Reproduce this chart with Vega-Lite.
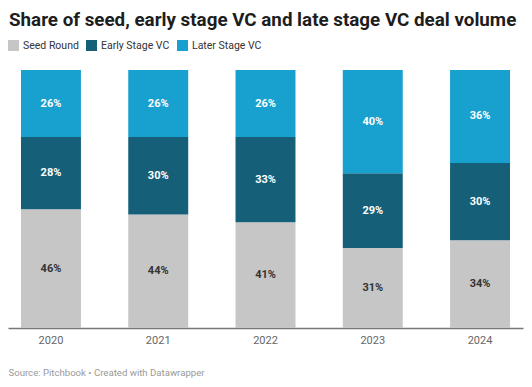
{
  "$schema": "https://vega.github.io/schema/vega-lite/v6.json",
  "autosize": "none",
  "width": 515,
  "height": 258,
  "padding": {"left": 8, "top": 70, "right": 9, "bottom": 59},
  "background": "white",
  "title": {
    "text": "Share of seed, early stage VC and late stage VC deal volume",
    "anchor": "start",
    "frame": "group",
    "baseline": "alphabetic",
    "offset": -5.2,
    "dx": 1,
    "font": "Roboto",
    "fontSize": 18.8,
    "fontWeight": "bold",
    "color": "#1d1d1d"
  },
  "config": {
    "view": {"stroke": null},
    "font": "Roboto"
  },
  "data": {
    "values": [
      {"year": "2020", "series": "Seed Round", "order": 1, "value": 46},
      {"year": "2020", "series": "Early Stage VC", "order": 2, "value": 28},
      {"year": "2020", "series": "Later Stage VC", "order": 3, "value": 26},
      {"year": "2021", "series": "Seed Round", "order": 1, "value": 44},
      {"year": "2021", "series": "Early Stage VC", "order": 2, "value": 30},
      {"year": "2021", "series": "Later Stage VC", "order": 3, "value": 26},
      {"year": "2022", "series": "Seed Round", "order": 1, "value": 41},
      {"year": "2022", "series": "Early Stage VC", "order": 2, "value": 33},
      {"year": "2022", "series": "Later Stage VC", "order": 3, "value": 26},
      {"year": "2023", "series": "Seed Round", "order": 1, "value": 31},
      {"year": "2023", "series": "Early Stage VC", "order": 2, "value": 29},
      {"year": "2023", "series": "Later Stage VC", "order": 3, "value": 40},
      {"year": "2024", "series": "Seed Round", "order": 1, "value": 34},
      {"year": "2024", "series": "Early Stage VC", "order": 2, "value": 30},
      {"year": "2024", "series": "Later Stage VC", "order": 3, "value": 36}
    ]
  },
  "transform": [
    {"stack": "value", "groupby": ["year"], "sort": [{"field": "order", "order": "ascending"}], "as": ["y0", "y1"]},
    {"calculate": "(datum.y0 + datum.y1) / 2", "as": "mid"},
    {"calculate": "datum.value + '%'", "as": "label"}
  ],
  "encoding": {
    "x": {
      "field": "year",
      "type": "ordinal",
      "scale": {"paddingInner": 0.441, "paddingOuter": 0.121},
      "axis": {
        "title": "Source: Pitchbook • Created with Datawrapper",
        "titleAnchor": "start",
        "titleAlign": "left",
        "titleX": 0,
        "titleY": 47.5,
        "titleBaseline": "alphabetic",
        "titleFont": "Roboto",
        "titleFontSize": 9.6,
        "titleFontWeight": "normal",
        "titleColor": "#999999",
        "labelAngle": 0,
        "labelFont": "Roboto",
        "labelFontSize": 11,
        "labelColor": "#666666",
        "labelPadding": 6.5,
        "ticks": false,
        "domainColor": "#777777",
        "domainWidth": 1.5
      }
    }
  },
  "layer": [
    {
      "mark": {"type": "bar"},
      "encoding": {
        "y": {"field": "y0", "type": "quantitative", "scale": {"domain": [0, 100], "nice": false}, "axis": null},
        "y2": {"field": "y1"},
        "color": {
          "field": "series",
          "type": "nominal",
          "scale": {
            "domain": ["Seed Round", "Early Stage VC", "Later Stage VC"],
            "range": ["#c6c6c6", "#155f79", "#18a1ce"]
          },
          "legend": {
            "title": null,
            "orient": "none",
            "direction": "horizontal",
            "legendX": 0,
            "legendY": -30,
            "symbolType": "square",
            "symbolSize": 121,
            "symbolStrokeWidth": 0,
            "symbolOpacity": 1,
            "labelFont": "Roboto",
            "labelFontSize": 10.5,
            "labelColor": "#333333",
            "labelOffset": 4,
            "columnPadding": 7
          }
        }
      }
    },
    {
      "mark": {"type": "text", "font": "Roboto", "fontSize": 11, "fontWeight": "bold", "baseline": "middle"},
      "encoding": {
        "y": {"field": "mid", "type": "quantitative", "scale": {"domain": [0, 100], "nice": false}},
        "text": {"field": "label", "type": "nominal"},
        "color": {
          "condition": {"test": "datum.series === 'Seed Round'", "value": "#333333"},
          "value": "#ffffff"
        }
      }
    }
  ]
}
